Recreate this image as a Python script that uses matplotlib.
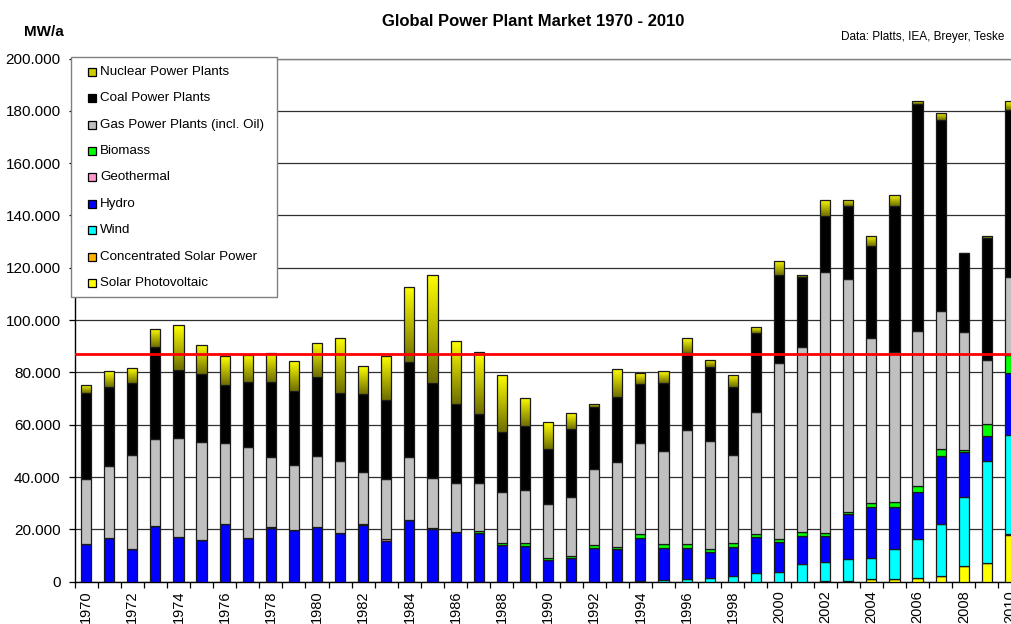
import numpy as np
import matplotlib
matplotlib.use("Agg")
import matplotlib.pyplot as plt
from matplotlib.colors import LinearSegmentedColormap
from matplotlib.patches import Rectangle
from matplotlib.ticker import FuncFormatter, FixedLocator

plt.rcParams['font.family'] = ['Liberation Sans', 'DejaVu Sans']

years = list(range(1970, 2011))

solar_pv = [0]*32 + [0.2, 0.4, 1.0, 1.1, 1.5, 2.3, 6.0, 7.1, 17.9]
csp = [0]*39 + [0.2, 0.5]
wind = [0]*24 + [0.3, 0.6, 1.0, 1.3, 2.3, 3.4, 3.7, 6.8, 7.3, 8.1, 7.9, 11.4, 15.0, 19.8, 26.5, 38.8, 37.5]
hydro = [14.3, 16.6, 12.5, 21.4, 17.2, 16.0, 22.1, 16.8, 20.4, 19.6,
         20.9, 18.8, 21.6, 15.7, 23.4, 20.0, 19.1, 18.8, 14.0, 13.7,
         8.3, 8.9, 13.0, 12.5, 16.3, 12.2, 11.8, 9.9, 11.1, 13.6,
         11.6, 10.7, 10.0, 17.3, 19.8, 16.2, 17.6, 26.1, 17.0, 9.6, 23.7]
geothermal = [0]*12 + [0.3, 0.5, 0, 0.4] + [0]*25
biomass = [0]*8 + [0.6] + [0]*8 + [0.6, 0.9, 1.0, 0.8, 0.9, 0.9, 0.9, 1.5, 1.5,
          1.6, 1.2, 1.3, 1.1, 1.2, 1.4, 1.0, 1.0, 1.3, 1.7, 2.3, 2.6, 0.9, 4.7, 7.0]
gas = [24.9, 27.8, 35.9, 33.2, 37.7, 37.3, 31.0, 34.6, 26.7, 25.1,
       27.0, 27.4, 20.0, 23.1, 24.1, 19.2, 18.8, 18.2, 19.4, 20.3,
       20.5, 22.7, 29.0, 32.5, 35.1, 35.8, 43.6, 41.4, 33.8, 46.7,
       67.0, 71.0, 99.9, 88.9, 63.1, 57.3, 59.6, 52.6, 45.1, 24.2, 29.7]
coal = [32.9, 30.2, 27.6, 35.0, 25.9, 26.2, 22.2, 24.8, 28.7, 28.3,
        30.2, 26.0, 29.9, 30.2, 36.3, 36.4, 30.2, 26.6, 23.0, 24.6,
        21.2, 25.8, 23.7, 24.8, 22.4, 26.0, 29.6, 28.1, 26.1, 30.3,
        33.6, 26.4, 21.3, 27.8, 35.3, 55.8, 86.6, 72.9, 30.1, 46.7, 63.9]
nuclear = [3.1, 5.8, 5.7, 6.9, 17.2, 11.1, 10.8, 10.4, 11.1, 11.3,
           13.1, 21.1, 10.6, 16.9, 28.7, 41.4, 24.0, 23.7, 21.8, 10.8,
           10.1, 6.0, 1.3, 10.5, 4.1, 4.5, 5.4, 3.0, 4.6, 2.2,
           5.6, 0.9, 6.3, 2.3, 3.9, 4.4, 1.3, 2.9, 0.0, 0.9, 3.4]
reference_line = 87200  # MW/a

# stacking order bottom -> top
series = [
    ("Solar Photovoltaic", solar_pv, "#FFFF00"),
    ("Concentrated Solar Power", csp, "#FFB400"),
    ("Wind", wind, "#00FFFF"),
    ("Hydro", hydro, "#0000FF"),
    ("Geothermal", geothermal, "#FF99CC"),
    ("Biomass", biomass, "#00FF00"),
    ("Gas Power Plants (incl. Oil)", gas, "#C0C0C0"),
    ("Coal Power Plants", coal, "#000000"),
    ("Nuclear Power Plants", nuclear, "#CCCC00"),
]

W, H = 1012, 624
fig = plt.figure(figsize=(W/100, H/100), dpi=100)
ax = fig.add_axes([74.5/W, 42.3/H, 947/W, 523.2/H])

x = np.arange(len(years))
bottom = np.zeros(len(years))
bw = 0.44
grad_cmap = LinearSegmentedColormap.from_list("nuc", ["#6E6E00", "#FFFF00"])
grad = np.linspace(0, 1, 128).reshape(-1, 1)

for name, vals, col in series:
    v = np.array(vals) * 1000.0
    if name.startswith("Nuclear"):
        bars = ax.bar(x, v, bw, bottom=bottom, color=col, edgecolor="none", zorder=3)
        for b, h in zip(bars, v):
            if h <= 0:
                continue
            x0 = b.get_x(); y0 = b.get_y()
            im = ax.imshow(grad, extent=(x0, x0 + b.get_width(), y0, y0 + h),
                           origin="lower", aspect="auto", cmap=grad_cmap, zorder=3.1)
            im.set_clip_path(b)
        ax.bar(x, v, bw, bottom=bottom, fill=False, edgecolor="#1a1a1a", linewidth=0.9, zorder=3.2)
    else:
        ax.bar(x, v, bw, bottom=bottom, color=col, edgecolor="#1a1a1a", linewidth=0.9, zorder=3)
    bottom = bottom + v

ax.axhline(reference_line, color="#FF0000", linewidth=2, zorder=5)

ax.set_xlim(-0.5, len(years) - 0.5)
ax.set_ylim(0, 200000)
ax.set_aspect("auto")

# grid
ax.set_yticks(np.arange(0, 200001, 20000))
ax.yaxis.set_major_formatter(FuncFormatter(lambda v, p: f"{int(v):,}".replace(",", ".")))
ax.grid(axis="y", color="#303030", linewidth=0.9, zorder=0)
ax.set_axisbelow(True)

ax.set_xticks(x[::2])
ax.set_xticklabels([str(y) for y in years[::2]], rotation=90, fontsize=10.5)
ax.xaxis.set_minor_locator(FixedLocator(np.arange(-0.5, len(years), 1.0)))
ax.tick_params(axis="x", which="major", length=0, pad=6)
ax.tick_params(axis="x", which="minor", length=4, width=0.9, direction="out")
ax.tick_params(axis="y", which="major", length=4, width=0.9, direction="out", pad=6, labelsize=11)

for s in ["left", "bottom"]:
    ax.spines[s].set_color("black")
    ax.spines[s].set_linewidth(1)
ax.spines["top"].set_color("#808080")
ax.spines["top"].set_linewidth(1)
ax.spines["right"].set_visible(False)

# texts
fig.text(533/W, 1 - 21/H, "Global Power Plant Market 1970 - 2010", ha="center", va="center",
         fontsize=12, fontweight="bold")
fig.text(44/W, 1 - 32/H, "MW/a", ha="center", va="center", fontsize=11, fontweight="bold")
fig.text(1004/W, 1 - 37/H, "Data: Platts, IEA, Breyer, Teske", ha="right", va="center", fontsize=8.5)

# legend box (drawn in figure pixel coordinates)
leg_order = ["Nuclear Power Plants", "Coal Power Plants", "Gas Power Plants (incl. Oil)", "Biomass",
             "Geothermal", "Hydro", "Wind", "Concentrated Solar Power", "Solar Photovoltaic"]
colors = {n: c for n, _, c in series}
box = Rectangle((71/W, 1 - 297/H), 206/W, 240/H, transform=fig.transFigure,
                facecolor="white", edgecolor="#808080", linewidth=1, zorder=10)
fig.add_artist(box)
for i, name in enumerate(leg_order):
    yc = 71.7 + i * 26.4
    sq = Rectangle((88.5/W, 1 - (yc + 4)/H), 8/W, 8/H, transform=fig.transFigure,
                   facecolor=colors[name], edgecolor="black", linewidth=0.9, zorder=11)
    fig.add_artist(sq)
    fig.text(100/W, 1 - yc/H, name, ha="left", va="center", fontsize=9.6, zorder=12)

fig.savefig("out.png", dpi=100)
